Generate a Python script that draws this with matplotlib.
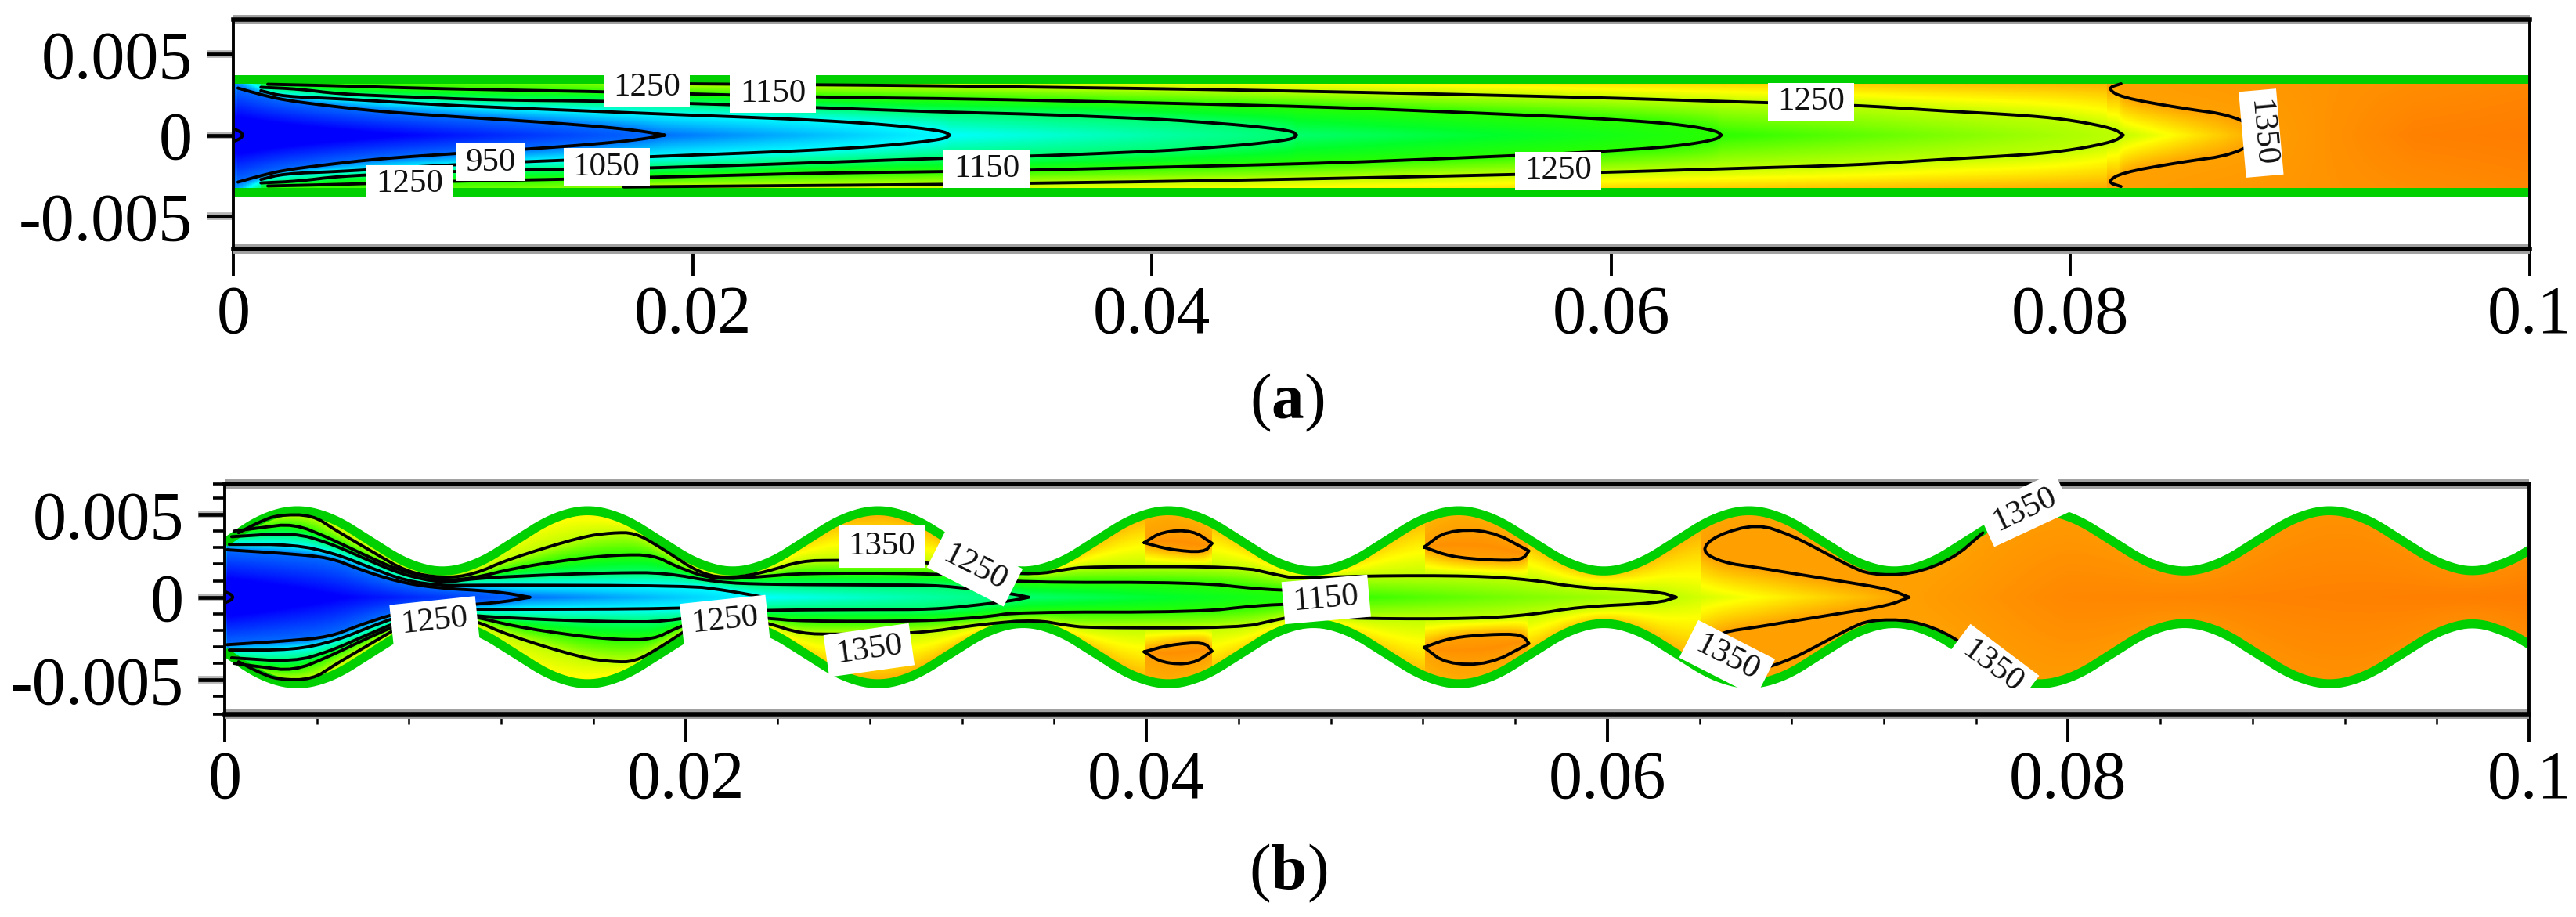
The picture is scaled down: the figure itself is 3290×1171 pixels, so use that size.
import numpy as np
import matplotlib
matplotlib.use("Agg")
import matplotlib.pyplot as plt
import matplotlib.patheffects as pe
from matplotlib.colors import LinearSegmentedColormap, Normalize
from matplotlib.patches import Rectangle
from matplotlib.transforms import Affine2D

plt.rcParams['font.family'] = ['Liberation Serif', 'DejaVu Serif']
plt.rcParams['mathtext.fontset'] = 'custom'
plt.rcParams['mathtext.rm'] = 'Liberation Serif'
plt.rcParams['mathtext.bf'] = 'Liberation Serif:bold'

# ---------- values (x and y in mm, T in K) ----------
X_TICKS = [0, 0.02, 0.04, 0.06, 0.08, 0.1]
X_LABELS = ['0', '0.02', '0.04', '0.06', '0.08', '0.1']
Y_TICKS = [-0.005, 0, 0.005]
Y_LABELS = ['-0.005', '0', '0.005']

# colour scale
CMAP_T = [750, 790, 850, 950, 1050, 1100, 1150, 1250, 1285, 1350, 1400]
CMAP_RGB = [(0, 0, 255), (0, 0, 255), (0, 110, 255), (0, 255, 255), (0, 255, 110),
            (0, 255, 40), (40, 255, 0), (190, 255, 0), (255, 255, 0), (255, 160, 0), (255, 125, 0)]

# panel (a): straight channel
A_WALL_X = [0, 100]
A_WALL_Y = [3.48, 3.48]
A_CENTER_X = [0, 18.8, 31.2, 46.3, 64.8, 82.3, 88.4, 95, 100]
A_CENTER_T = [750, 850, 950, 1050, 1150, 1250, 1350, 1395, 1400]
A_EDGE_X = [0, 1.5, 17, 40, 60, 82, 100]
A_EDGE_T = [860, 1160, 1250, 1290, 1325, 1350, 1385]

A_850_X = [0.2, 1.2, 2.2, 3.9, 6.4, 10.3, 12.5, 14.6, 16.3, 17.7, 18.8]
A_850_Y = [2.90, 2.50, 2.17, 1.85, 1.45, 1.08, 0.89, 0.68, 0.48, 0.27, 0]
A_950_X = [1.2, 2.2, 4.6, 8.6, 11.7, 15.3, 18.7, 22.1, 24.8, 27.1, 28.9, 30.2, 31.0, 31.2]
A_950_Y = [2.74, 2.38, 2.25, 1.90, 1.70, 1.50, 1.30, 1.12, 0.96, 0.78, 0.58, 0.38, 0.20, 0]
A_1050_X = [1.2, 2.8, 4.6, 7.2, 11.1, 16.2, 21.3, 26.4, 31.0, 34.8, 38.0, 40.6, 42.4, 44.2, 46.1, 46.3]
A_1050_Y = [2.95, 2.85, 2.54, 2.38, 2.17, 2.10, 1.90, 1.65, 1.42, 1.30, 1.12, 0.96, 0.78, 0.58, 0.27, 0]
A_1150_X = [1.5, 4.4, 9.2, 16.2, 21.0, 26.0, 31.5, 37.4, 42.8, 47.8, 51.5, 54.7, 57.7, 60.0, 62.0, 63.5, 64.6, 64.8]
A_1150_Y = [3.14, 3.05, 2.85, 2.68, 2.50, 2.33, 2.25, 2.08, 1.90, 1.72, 1.52, 1.33, 1.15, 0.97, 0.78, 0.55, 0.25, 0]
A_1250_X = [17, 21, 30.5, 35.5, 41, 48.8, 55.2, 60.5, 64.8, 70.7, 74, 78.3, 80.2, 81.9, 82.3]
A_1250_Y = [3.20, 3.15, 3.05, 2.95, 2.85, 2.65, 2.45, 2.27, 2.08, 1.85, 1.53, 1.20, 0.89, 0.40, 0]
A_1350_X = [82.2, 81.6, 82.2, 84.7, 87.2, 88.4]
A_1350_Y = [3.17, 2.90, 2.33, 1.69, 1.20, 0]
A_750_X = [0, 0.35, 0.4]
A_750_Y = [0.4, 0.18, 0]

A_LABEL_TEXT = ['1250', '1150', '950', '1050', '1250', '1150', '1250', '1250', '1350']
A_LABEL_X = [18.0, 23.5, 11.2, 16.25, 7.67, 32.8, 57.7, 68.7, 88.3]
A_LABEL_Y = [2.92, 2.54, -1.68, -1.97, -3.02, -2.10, -2.20, 2.05, 0.12]
A_LABEL_ROT = [0, 0, 0, 0, 0, 0, 0, 0, -85]

# panel (b): wavy channel
B_WALL_X = [0, 1.575, 3.15, 4.725, 6.3, 7.875, 9.45, 11.025, 12.6, 14.175, 15.75, 17.325, 18.9, 20.475,
            22.05, 23.625, 25.2, 26.775, 28.35, 29.925, 31.5, 33.075, 34.65, 36.225, 37.8, 39.375,
            40.95, 42.525, 44.1, 45.675, 47.25, 48.825, 50.4, 51.975, 53.55, 55.125, 56.7, 58.275,
            59.85, 61.425, 63.0, 64.575, 66.15, 67.725, 69.3, 70.875, 72.45, 74.025, 75.6, 77.175,
            78.75, 80.325, 81.9, 83.475, 85.05, 86.625, 88.2, 89.775, 91.35, 92.925, 94.5, 96.075,
            97.65, 99.225, 100]
B_WALL_Y = [3.30, 4.80, 5.37, 4.80, 3.41, 2.02, 1.45, 2.02, 3.41, 4.80, 5.37, 4.80, 3.41, 2.02,
            1.45, 2.02, 3.41, 4.80, 5.37, 4.80, 3.41, 2.02, 1.45, 2.02, 3.41, 4.80,
            5.37, 4.80, 3.41, 2.02, 1.45, 2.02, 3.41, 4.80, 5.37, 4.80, 3.41, 2.02,
            1.45, 2.02, 3.41, 4.80, 5.37, 4.80, 3.41, 2.02, 1.45, 2.02, 3.41, 4.80,
            5.37, 4.80, 3.41, 2.02, 1.45, 2.02, 3.41, 4.80, 5.37, 4.80, 3.41, 2.02,
            1.45, 2.20, 2.85]
B_CENTER_X = [0, 13.25, 23.4, 34.9, 48, 63, 73.1, 80, 100]
B_CENTER_T = [750, 850, 950, 1050, 1150, 1250, 1350, 1385, 1400]
B_EDGE_X = [0, 1.5, 3, 9.45, 16, 22, 28, 37, 41, 47, 53.5, 60, 66, 71, 76, 85, 100]
B_EDGE_T = [900, 1200, 1275, 1260, 1300, 1290, 1348, 1335, 1340, 1310, 1340, 1335, 1348, 1342, 1350, 1365, 1375]

B_850_X = [0.1, 2.7, 4.55, 5.84, 7.4, 9.0, 11.8, 13.25]
B_850_Y = [2.87, 2.64, 2.40, 1.69, 0.98, 0.58, 0.35, 0]
B_950_X = [0.2, 3.0, 4.8, 6.35, 7.9, 9.45, 11.0, 20.1, 21.7, 23.4]
B_950_Y = [3.19, 3.19, 2.64, 1.77, 0.98, 0.70, 0.74, 0.70, 0.43, 0]
B_1050_X = [0.3, 3.0, 4.55, 6.1, 7.7, 9.45, 10.8, 14.2, 17.0, 19.1, 21.4, 23.5, 28.0, 30.7, 32.5, 34.2, 34.9]
B_1050_Y = [3.66, 3.90, 3.27, 2.32, 1.37, 0.85, 1.14, 1.37, 1.48, 1.48, 0.90, 0.78, 0.74, 0.74, 0.50, 0.20, 0]
B_1150_X = [0.4, 1.5, 3.0, 4.5, 6.0, 7.6, 9.45, 10.8, 12.6, 15.2, 17.0, 18.6, 19.6, 21.2, 23.5, 25.0, 30.3,
            33.0, 34.4, 42.2, 44.8, 46.5, 48.0]
B_1150_Y = [4.00, 4.20, 4.45, 3.60, 2.60, 1.60, 1.00, 1.15, 1.77, 2.32, 2.56, 2.56, 1.85, 1.06, 1.26, 1.45, 1.45,
            1.20, 0.90, 0.90, 0.50, 0.40, 0]
B_1250_X = [0.6, 1.5, 2.3, 3.8, 4.8, 6.35, 7.9, 9.45, 10.8, 12.35, 15.5, 16.8, 17.8, 18.9, 20.7, 22.0, 23.5, 25.0,
            26.6, 30.0, 33.0, 35.2, 36.5, 37.5, 44.1, 45.6, 46.5, 49.6, 54.2, 56.7, 58.8, 62.2, 63.0]
B_1250_Y = [3.90, 4.55, 4.98, 4.98, 4.06, 2.80, 1.53, 1.15, 1.37, 2.32, 3.66, 3.90, 3.90, 3.03, 1.37, 1.15, 1.53, 2.20,
            2.24, 2.20, 1.60, 1.37, 1.69, 1.85, 1.85, 1.37, 1.13, 1.30, 1.30, 1.06, 0.58, 0.35, 0]

B_LOOP1_X = [39.9, 41.0, 42.5, 42.85]
B_LOOP1_LOW = [3.30, 2.88, 2.70, 3.26]
B_LOOP1_TOPX = [39.9, 40.7, 42.0, 42.85]
B_LOOP1_TOP = [3.30, 3.98, 4.05, 3.26]
B_LOOP2_X = [52.05, 53.2, 54.9, 56.3, 56.6]
B_LOOP2_LOW = [3.03, 2.45, 2.24, 2.24, 2.80]
B_LOOP2_TOPX = [52.05, 53.0, 54.9, 56.6]
B_LOOP2_TOP = [3.03, 4.03, 4.06, 2.80]
B_LOOP3_X = [64.05, 65.0, 66.5, 68.0, 70.1, 72.2, 73.1]
B_LOOP3_LOW = [2.80, 2.10, 1.80, 1.45, 0.98, 0.50, 0]
B_LOOP3_TOPX = [64.05, 64.7, 66.5, 68.0, 69.3, 70.5, 71.4, 73.2, 75.0, 76.3]
B_LOOP3_TOP = [2.80, 3.74, 4.45, 3.74, 2.80, 1.90, 1.37, 1.37, 2.32, 3.90]
B_750_X = [0, 0.3, 0.35]
B_750_Y = [0.35, 0.15, 0]

B_LABEL_TEXT = ['1250', '1250', '1350', '1350', '1250', '1150', '1350', '1350', '1350']
B_LABEL_X = [9.1, 21.7, 28.5, 27.96, 32.55, 47.8, 65.2, 78.1, 76.7]
B_LABEL_Y = [-1.47, -1.40, 3.08, -3.20, 1.76, -0.13, -3.70, 5.30, -4.20]
B_LABEL_ROT = [6, 6, 0, 8, -27, 5, -27, 25, -37]

PANEL_TITLES = [r'($\mathbf{a}$)', r'($\mathbf{b}$)']

# ---------- helpers ----------
W, H = 3291, 1171
GREEN = '#00d000'
cmap = LinearSegmentedColormap.from_list(
    'temp', [((t - CMAP_T[0]) / (CMAP_T[-1] - CMAP_T[0]), tuple(c / 255 for c in rgb))
             for t, rgb in zip(CMAP_T, CMAP_RGB)], N=512)
norm = Normalize(CMAP_T[0], CMAP_T[-1])


def smooth(x, y, n=2):
    p = np.column_stack([x, y]).astype(float)
    for _ in range(n):
        q = 0.75 * p[:-1] + 0.25 * p[1:]
        r = 0.25 * p[:-1] + 0.75 * p[1:]
        mid = np.empty((2 * len(q), 2))
        mid[0::2] = q
        mid[1::2] = r
        p = np.vstack([p[0], mid, p[-1]])
    return p[:, 0], p[:, 1]


def field(wall_x, wall_y, cx, ct, ex, et, branches, ylim):
    xs = np.linspace(0, 100, 1400)
    ys = np.linspace(ylim[0], ylim[1], 620)
    wx, wy = smooth(wall_x, wall_y, 3)
    hh = np.interp(xs, wx, wy)
    T = np.full((len(ys), len(xs)), np.nan)
    for j, x in enumerate(xs):
        ny = [0.0, hh[j]]
        nt = [np.interp(x, cx, ct), np.interp(x, ex, et)]
        for bx, by, lev in branches:
            if bx[0] <= x <= bx[-1]:
                yy = min(np.interp(x, bx, by), hh[j] - 1e-3)
                ny.append(max(yy, 1e-3))
                nt.append(lev)
        order = np.argsort(ny)
        col = np.interp(np.abs(ys), np.array(ny)[order], np.array(nt)[order])
        col[np.abs(ys) > hh[j]] = np.nan
        T[:, j] = col
    return xs, ys, np.ma.masked_invalid(T)


def branch(x, y, lev):
    x = np.asarray(x, float)
    y = np.asarray(y, float)
    o = np.argsort(x)
    sx, sy = smooth(x[o], y[o], 2)
    return sx, sy, lev


def frame(px_left, px_right, px_top, px_bottom, ylim):
    ax = fig.add_axes([px_left / W, 1 - px_bottom / H, (px_right - px_left) / W, (px_bottom - px_top) / H])
    ax.set_xlim(0, 0.1)
    ax.set_ylim(ylim[0] / 1000, ylim[1] / 1000)
    for s in ('top', 'bottom'):
        ax.spines[s].set_linewidth(4.0)
        ax.plot([0, 1], [0 if s == 'bottom' else 1] * 2, transform=ax.transAxes, color='#a0a0a0', lw=8.6,
                solid_capstyle='butt', clip_on=False, zorder=2.4)
    for s in ('left', 'right'):
        ax.spines[s].set_linewidth(2.8)
    ax.set_xticks(X_TICKS, X_LABELS)
    ax.set_yticks(Y_TICKS, Y_LABELS)
    ax.tick_params(axis='x', which='major', length=25, width=2.8, pad=8, labelsize=62)
    ax.tick_params(axis='y', which='major', length=24.5, width=3.4, pad=13, labelsize=62)
    for t in ax.yaxis.get_major_ticks():
        t.tick1line.set_path_effects([pe.withStroke(linewidth=7, foreground='#b4b4b4')])
    return ax


def paint(ax, xs, ys, T, wall_x, wall_y, lw_wall):
    ax.pcolormesh(xs / 1000, ys / 1000, T, cmap=cmap, norm=norm, shading='auto', zorder=1, rasterized=True)
    wx, wy = smooth(wall_x, wall_y, 3)
    for sgn in (1, -1):
        ax.plot(wx / 1000, sgn * wy / 1000, color=GREEN, lw=lw_wall, solid_capstyle='butt', zorder=2)


def isoline(ax, x, y, lw=2.8, mirror=True):
    sx, sy = smooth(list(x) + list(x[::-1]), list(y) + list(-np.asarray(y[::-1])), 2) if mirror else smooth(x, y, 2)
    ax.plot(sx / 1000, sy / 1000, color='k', lw=lw, zorder=3, solid_capstyle='round')


def labels(ax, txt, lx, ly, rot, box_h):
    for t, a, b, r in zip(txt, lx, ly, rot):
        x, y = a / 1000, b / 1000
        px, py = ax.transData.transform((x, y))
        w = 23 * len(t) + 18
        ax.add_patch(Rectangle((-w / 2, -box_h / 2), w, box_h, fc='white', ec='none', zorder=5, clip_on=False,
                               transform=Affine2D().rotate_deg(r).translate(px, py)))
        ax.text(x, y, t, rotation=r, rotation_mode='anchor', ha='center', va='center', fontsize=31,
                color='#111111', zorder=6)


fig = plt.figure(figsize=(W / 100, H / 100), dpi=100, facecolor='white')

# ---------- panel (a) ----------
ylim_a = (-7.03, 7.13)
ax = frame(298, 3231, 25, 318, ylim_a)
br = [branch(A_850_X, A_850_Y, 850), branch(A_950_X, A_950_Y, 950), branch(A_1050_X, A_1050_Y, 1050),
      branch(A_1150_X, A_1150_Y, 1150), branch(A_1250_X, A_1250_Y, 1250), branch(A_1350_X, A_1350_Y, 1350)]
xs, ys, T = field(A_WALL_X, A_WALL_Y, A_CENTER_X, A_CENTER_T, A_EDGE_X, A_EDGE_T, br, ylim_a)
paint(ax, xs, ys, T, A_WALL_X, A_WALL_Y, 7.9)
for lx, ly in ((A_750_X, A_750_Y), (A_850_X, A_850_Y), (A_950_X, A_950_Y), (A_1050_X, A_1050_Y),
               (A_1150_X, A_1150_Y), (A_1250_X, A_1250_Y), (A_1350_X, A_1350_Y)):
    isoline(ax, lx, ly)
labels(ax, A_LABEL_TEXT, A_LABEL_X, A_LABEL_Y, A_LABEL_ROT, 48)

# ---------- panel (b) ----------
ylim_b = (-7.07, 6.85)
ax = frame(287, 3230, 618, 912, ylim_b)
ax.set_xticks([v / 1000 for v in (4, 8, 12, 16, 24, 28, 32, 36, 44, 48, 52, 56, 64, 68, 72, 76, 84, 88, 92, 96)], minor=True)
ax.set_yticks([v / 1000 for v in (-7.07, -6, -4, -3, -2, -1, 1, 2, 3, 4, 6, 6.85)], minor=True)
ax.tick_params(axis='x', which='minor', length=9.5, width=1.8)
ax.tick_params(axis='y', which='minor', length=11, width=2.6)

mids = []
for lx, lo, tx, hi in ((B_LOOP1_X, B_LOOP1_LOW, B_LOOP1_TOPX, B_LOOP1_TOP),
                       (B_LOOP2_X, B_LOOP2_LOW, B_LOOP2_TOPX, B_LOOP2_TOP)):
    mx = np.array(lx)
    mids.append(branch(mx, (np.array(lo) + np.interp(mx, tx, hi)) / 2, 1372))
br = [branch(B_850_X, B_850_Y, 850), branch(B_950_X, B_950_Y, 950), branch(B_1050_X, B_1050_Y, 1050),
      branch(B_1150_X, B_1150_Y, 1150), branch(B_1250_X, B_1250_Y, 1250),
      branch(B_LOOP1_X, B_LOOP1_LOW, 1350), branch(B_LOOP1_TOPX, B_LOOP1_TOP, 1350),
      branch(B_LOOP2_X, B_LOOP2_LOW, 1350), branch(B_LOOP2_TOPX, B_LOOP2_TOP, 1350),
      branch(B_LOOP3_X, B_LOOP3_LOW, 1350), branch(B_LOOP3_TOPX, B_LOOP3_TOP, 1350)] + mids
xs, ys, T = field(B_WALL_X, B_WALL_Y, B_CENTER_X, B_CENTER_T, B_EDGE_X, B_EDGE_T, br, ylim_b)
paint(ax, xs, ys, T, B_WALL_X, B_WALL_Y, 8.3)
for lx, ly in ((B_750_X, B_750_Y), (B_850_X, B_850_Y), (B_950_X, B_950_Y), (B_1050_X, B_1050_Y),
               (B_1150_X, B_1150_Y), (B_1250_X, B_1250_Y)):
    isoline(ax, lx, ly)
for lx, lo, tx, hi in ((B_LOOP1_X, B_LOOP1_LOW, B_LOOP1_TOPX, B_LOOP1_TOP),
                       (B_LOOP2_X, B_LOOP2_LOW, B_LOOP2_TOPX, B_LOOP2_TOP)):
    for sgn in (1, -1):
        isoline(ax, list(lx) + list(tx[::-1]), [sgn * v for v in lo] + [sgn * v for v in hi[::-1]], mirror=False)
for sgn in (1, -1):
    isoline(ax, list(B_LOOP3_X[::-1]) + list(B_LOOP3_TOPX[1:]),
            [sgn * v for v in B_LOOP3_LOW[::-1]] + [sgn * v for v in B_LOOP3_TOP[1:]], mirror=False)
labels(ax, B_LABEL_TEXT, B_LABEL_X, B_LABEL_Y, B_LABEL_ROT, 54)

fig.text(1644 / W, 1 - 514 / H, PANEL_TITLES[0], ha='center', va='center', fontsize=60)
fig.text(1645 / W, 1 - 1115 / H, PANEL_TITLES[1], ha='center', va='center', fontsize=60)

fig.savefig('out.png', dpi=100, facecolor='white')
